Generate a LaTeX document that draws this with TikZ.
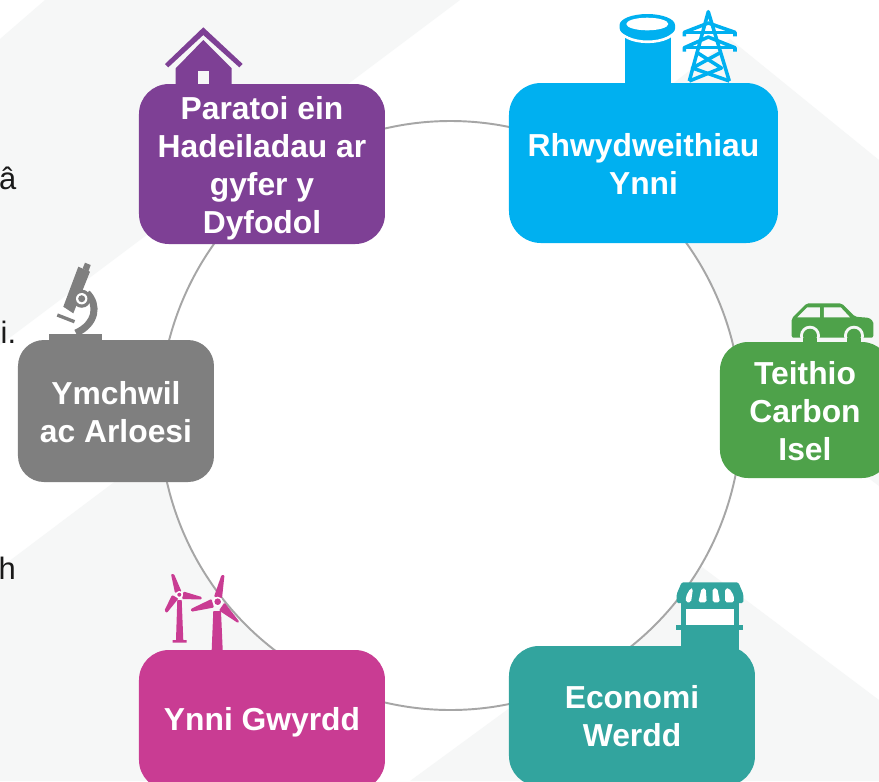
\documentclass[tikz,border=0pt]{standalone}
\usepackage{fontspec}
\setmainfont{Liberation Sans}
\definecolor{bandgrey}{HTML}{F6F7F7}
\definecolor{ringgrey}{HTML}{A6A6A6}
\definecolor{purplebox}{HTML}{7E4095}
\definecolor{bluebox}{HTML}{00B0F0}
\definecolor{greenbox}{HTML}{4EA24A}
\definecolor{tealbox}{HTML}{32A49E}
\definecolor{pinkbox}{HTML}{C93C93}
\definecolor{greybox}{HTML}{7F7F7F}
\newcommand{\toprule}[1]{\rule{0pt}{#1}}
\tikzset{
	themebox/.style={rounded corners=0.3cm,text=white,align=center,inner sep=0,font=\fontsize{9.05}{10.8}\selectfont\bfseries},
	cliptext/.style={anchor=base west,inner sep=0,text=black!90,font=\fontsize{8.8}{10}\selectfont}
}

\begin{document}
\begin{tikzpicture}
	\clip (0,0) rectangle (8.79,-7.81);
	\fill[white] (0,0) rectangle (8.79,-7.81);

	%BACKGROUND BANDS
	\fill[bandgrey] (0,-0.39)--(0.45,0)--(4.6,0)--(0,-3.45)--cycle;
	\fill[bandgrey] (0,-5.68)--(2.1,-4.1)--(3.6,-7.81)--(0,-7.81)--cycle;
	\fill[bandgrey] (7.3,-0.39)--(8.79,-1.6)--(8.79,-4.86)--(7,-3.49)--(5.3,-1.95)--cycle;
	\fill[bandgrey] (4.1,-7.81)--(7.02,-5.67)--(8.79,-7)--(8.79,-7.81)--cycle;

	%RING
	\draw[ringgrey,fill=white,line width=0.55pt] (4.505,-4.155) ellipse (2.91 and 2.945);

	%HOUSE
	\fill[purplebox] (1.65,-0.64)--(2.033,-0.273)--(2.427,-0.64)--(2.393,-0.673)--(2.033,-0.35)--(1.683,-0.673)--cycle;
	\fill[purplebox] (2.033,-0.40)--(2.317,-0.683)--(2.317,-0.9)--(1.757,-0.9)--(1.757,-0.683)--cycle;
	\fill[bandgrey] (1.983,-0.707) rectangle (2.093,-0.843);

	%GAS COLUMN
	\fill[bluebox] (6.25,-0.35) rectangle (6.707,-0.9);
	\draw[white,line width=0.75pt] (6.197,-0.283) arc (180:360:0.28 and 0.135);
	\fill[bluebox] (6.197,-0.25)--(6.197,-0.283) arc (180:360:0.277 and 0.11)--(6.75,-0.25) arc (0:180:0.277 and 0.11)--cycle;
	\fill[white] (6.473,-0.24) ellipse (0.21 and 0.063);

	%PYLON
	\begin{scope}[bluebox,line width=1pt,line join=round]
		\draw (6.893,-0.81)--(7.083,-0.117)--(7.293,-0.81);
		\draw (6.843,-0.363)--(6.843,-0.323)--(7.083,-0.23)--(7.35,-0.323)--(7.35,-0.363);
		\draw (6.843,-0.323)--(7.35,-0.323);
		\draw (6.843,-0.517)--(6.843,-0.477)--(7.083,-0.37)--(7.35,-0.477)--(7.35,-0.517);
		\draw (6.843,-0.477)--(7.35,-0.477);
		\draw (6.963,-0.52)--(7.214,-0.68)--(6.893,-0.81);
		\draw (7.214,-0.52)--(6.924,-0.68)--(7.293,-0.81);
	\end{scope}

	%CAR
	\fill[greenbox,rounded corners=0.02cm] (7.917,-3.183)--(8.067,-3.033)--(8.417,-3.033)--(8.55,-3.167)--(8.65,-3.175)
		.. controls (8.72,-3.18) and (8.733,-3.23) .. (8.733,-3.25)--(8.733,-3.377)--(7.917,-3.377)--cycle;
	\fill[bandgrey] (7.973,-3.173)--(8.073,-3.073)--(8.2,-3.073)--(8.2,-3.173)--cycle;
	\fill[bandgrey] (8.24,-3.073)--(8.407,-3.073)--(8.5,-3.173)--(8.24,-3.173)--cycle;
	\fill[bandgrey] (8.1,-3.357) circle (0.1);
	\fill[bandgrey] (8.54,-3.357) circle (0.1);
	\fill[greenbox] (8.1,-3.357) circle (0.07);
	\fill[greenbox] (8.54,-3.357) circle (0.07);
	\fill[bandgrey] (7.9,-3.377) rectangle (8.75,-3.42);
	\fill[greenbox] (8.03,-3.377) rectangle (8.17,-3.45);
	\fill[greenbox] (8.47,-3.377) rectangle (8.61,-3.45);

	%MICROSCOPE
	\fill[greybox] (0.493,-3.34) rectangle (1.017,-3.45);
	\fill[greybox] (0.85,-2.627)--(0.907,-2.65)--(0.883,-2.717)--(0.827,-2.683)--cycle;
	\fill[greybox] (0.783,-2.667)--(0.9,-2.717)--(0.733,-3.133)--(0.633,-3.067)--cycle;
	\draw[greybox,line width=0.3pt,fill=greybox] (0.817,-2.987) circle (0.085);
	\draw[greybox,line width=2pt] (0.87,-2.93) .. controls (0.99,-3.05) and (0.96,-3.24) .. (0.76,-3.33);
	\draw[greybox,line width=0.95pt] (0.573,-3.15)--(0.745,-3.217);
	\fill[white] (0.817,-2.987) circle (0.057);
	\fill[greybox] (0.817,-2.987) circle (0.035);

	%TURBINES
	\begin{scope}[pinkbox]
		\fill (1.773,-6)--(1.817,-6)--(1.833,-6.4)--(1.867,-6.4)--(1.867,-6.427)--(1.727,-6.427)--(1.727,-6.4)--(1.76,-6.4)--cycle;
		\fill[rounded corners=0.01cm] (1.71,-5.74)--(1.74,-5.74)--(1.815,-5.915)--(1.75,-5.93)--cycle;
		\fill[rounded corners=0.01cm] (2.017,-5.97)--(2.017,-5.995)--(1.82,-5.99)--(1.835,-5.915)--cycle;
		\fill[rounded corners=0.01cm] (1.645,-6.105)--(1.668,-6.13)--(1.785,-5.985)--(1.72,-5.95)--cycle;
		\fill (2.133,-6.11)--(2.21,-6.11)--(2.227,-6.5)--(2.117,-6.5)--cycle;
		\fill[rounded corners=0.01cm] (2.215,-5.75)--(2.245,-5.75)--(2.22,-5.983)--(2.14,-5.967)--cycle;
		\fill[rounded corners=0.01cm] (1.907,-6.09)--(1.915,-6.117)--(2.14,-6.075)--(2.115,-5.99)--cycle;
		\fill[rounded corners=0.01cm] (2.393,-6.217)--(2.38,-6.23)--(2.19,-6.105)--(2.245,-6.025)--cycle;
		\fill[white] (1.793,-5.947) circle (0.037);
		\fill (1.793,-5.947) circle (0.02);
		\fill[white] (2.177,-6.017) circle (0.05);
		\fill (2.177,-6.017) circle (0.033);
	\end{scope}

	%MARKET STALL
	\fill[tealbox] (6.807,-6.03) rectangle (7.393,-6.5);
	\fill[white] (6.857,-6.093) rectangle (7.34,-6.25);
	\fill[tealbox] (6.76,-6.25) rectangle (7.433,-6.3);
	\fill[tealbox,rounded corners=0.015cm] (6.817,-5.823)--(7.383,-5.823)--(7.433,-5.94)--(7.433,-6.03)--(6.767,-6.03)--(6.767,-5.94)--cycle;
	\begin{scope}[white,rounded corners=0.018cm]
		\fill (6.905,-5.883)--(6.93,-5.883)--(6.91,-6.023)--(6.86,-6.023)--(6.86,-5.96)--cycle;
		\fill (7.017,-5.883)--(7.057,-5.883)--(7.067,-6.023)--(6.983,-6.023)--cycle;
		\fill (7.127,-5.883)--(7.173,-5.883)--(7.2,-6.023)--(7.127,-6.023)--cycle;
		\fill (7.253,-5.883)--(7.293,-5.883)--(7.34,-5.96)--(7.34,-6.023)--(7.25,-6.023)--cycle;
	\end{scope}

	%BOXES
	\node[themebox,fill=purplebox,minimum width=2.46cm,minimum height=1.6cm] (paratoi) at (2.62,-1.64) {\toprule{8.8pt}Paratoi ein\\Hadeiladau ar\\gyfer y\\Dyfodol};
	\node[themebox,fill=bluebox,minimum width=2.69cm,minimum height=1.6cm,rounded corners=0.32cm] (rhwydwaith) at (6.435,-1.63) {\toprule{7.1pt}Rhwydweithiau\\Ynni};
	\node[themebox,fill=greenbox,minimum width=1.7cm,minimum height=1.36cm,rounded corners=0.28cm] (teithio) at (8.05,-4.1) {\toprule{7.1pt}Teithio\\Carbon\\Isel};
	\node[themebox,fill=tealbox,minimum width=2.46cm,minimum height=1.4cm] (economi) at (6.32,-7.16) {Economi\\Werdd};
	\node[themebox,fill=pinkbox,minimum width=2.46cm,minimum height=1.4cm] (gwyrdd) at (2.62,-7.2) {\toprule{7.7pt}Ynni Gwyrdd};
	\node[themebox,fill=greybox,minimum width=1.96cm,minimum height=1.42cm,rounded corners=0.26cm] (ymchwil) at (1.16,-4.11) {\toprule{7.1pt}Ymchwil\\ac Arloesi};

	%CUT OFF TEXT AT THE EDGE
	\node[cliptext] (cutA) at (-0.015,-1.89) {â};
	\node[cliptext] (cutB) at (0,-3.43) {i.};
	\node[cliptext] (cutC) at (-0.02,-5.79) {h};
\end{tikzpicture}
\end{document}
